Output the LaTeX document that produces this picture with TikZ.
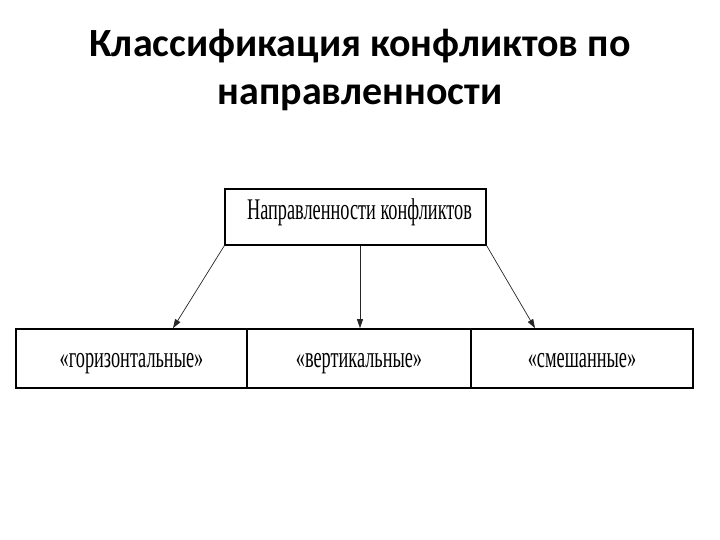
\documentclass[tikz,border=0pt]{standalone}
\usepackage{fontspec}
\setmainfont{Liberation Serif}
\newfontfamily\titlefont{Carlito}
\newfontfamily\boxfont[FakeStretch=0.61]{Liberation Serif}
\usetikzlibrary{arrows.meta,positioning}

\begin{document}
\begin{tikzpicture}[x=1pt,y=1pt,
  ttl/.style={font=\titlefont\fontsize{40}{48}\selectfont\bfseries,align=center},
  topbox/.style={rectangle,draw=black,line width=1.3pt,minimum width=261pt,
                 minimum height=56pt,inner sep=0pt,text height=12pt,text depth=6pt,
                 font=\boxfont\fontsize{30}{32}\selectfont},
  kind/.style={rectangle,draw=black,line width=1.6pt,minimum height=59pt,
               inner sep=0pt,text height=22pt,text depth=3pt,
               font=\boxfont\fontsize{30}{32}\selectfont},
  ar/.style={-{Triangle[length=9pt,width=6pt]},line width=0.7pt,black!85}
]
\useasboundingbox (0,0) rectangle (720,540);

\node[ttl] (title) at (360,470) {Классификация конфликтов по\\направленности};

\node[topbox] (dir) at (355.5,323) {\hspace*{8pt}Направленности конфликтов};

\node[kind,minimum width=231pt] (hor) at (131.5,181.5) {«горизонтальные»};
\node[kind,minimum width=224pt] (ver) at (359,181.5)   {«вертикальные»};
\node[kind,minimum width=222pt] (mix) at (582,181.5)   {«смешанные»};

\draw[ar] (dir.south west) -- ([xshift=41.5pt]hor.north);
\draw[ar] ([xshift=4.5pt]dir.south) -- ([xshift=1pt]ver.north);
\draw[ar] (dir.south east) -- ([xshift=-47pt]mix.north);
\end{tikzpicture}
\end{document}
